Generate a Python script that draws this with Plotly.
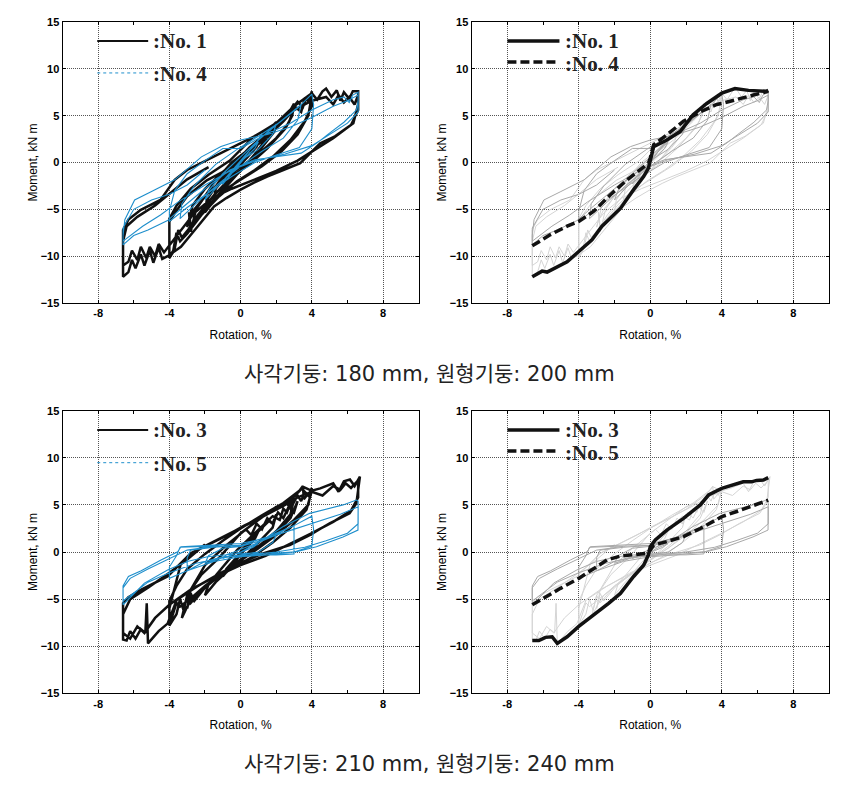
import plotly.graph_objects as go

# ---------------- data ----------------
# No. 1 hysteresis (rotation %, moment kN m), cycle by cycle
NO1_ROT = [
    [0, 0.5, 1.0, 0.9, 0.4, -0.2, -0.6, -1.0, -0.9, -0.4, 0.1],
    [0.3, 1.0, 1.5, 1.4, 0.8, 0.0, -0.8, -1.5, -1.4, -0.7, 0.2],
    [0.8, 1.5, 2.0, 1.9, 1.2, 0.4, -0.4, -1.2, -2.0, -1.9, -1.2, -0.4, 0.3],
    [1.2, 2.2, 2.8, 3.0, 2.9, 2.5, 1.5, 0.5, -0.5, -1.5, -2.4, -2.8, -2.9, -2.8, -2.5, -1.5, -0.5],
    [0.6, 1.6, 2.4, 2.8, 3.0, 2.7, 2.0, 1.0, 0.0, -1.0, -1.9, -2.6, -2.9, -3.0, -2.7, -2.0, -1.0, -0.1],
    [0.5, 1.5, 2.5, 3.2, 3.5, 3.7, 3.8, 4.0, 4.0, 3.6, 2.8, 1.8, 0.8, -0.2, -1.2, -2.2, -3.0, -3.4,
     -3.6, -3.8, -4.0, -4.0, -3.7, -3.0, -1.9, -0.8],
    [0.2, 1.3, 2.4, 3.1, 3.4, 3.6, 3.9, 4.0, 3.8, 3.2, 2.3, 1.2, 0.2, -0.8, -1.8, -2.8, -3.3, -3.5,
     -3.7, -4.0, -4.0, -3.6, -2.8, -1.8, -0.6],
    [0.7, 2.0, 3.0, 4.0, 4.3, 4.6, 4.8, 5.1, 5.4, 5.6, 5.8, 6.1, 6.3, 6.6, 6.6, 6.33, 5.3, 4.47, 4.0,
     3.35, 2.4, 1.49, 0.7, 0.0, -0.8, -1.49, -2.4, -3.35, -4.1, -4.4, -4.6, -4.9, -5.1, -5.4, -5.6,
     -5.9, -6.1, -6.3, -6.6, -6.6, -6.6, -6.3, -5.6, -4.5, -3.7, -3.0, -1.86, -0.37],
    [0.74, 2.05, 3.0, 4.0, 4.8, 5.2, 5.5, 5.8, 6.1, 6.4, 6.6, 6.6, 6.2, 5.2, 4.2, 3.2, 2.0, 0.8,
     -0.5, -1.6, -2.6, -3.5, -4.0, -4.3, -4.6, -4.8, -5.1, -5.3, -5.6, -5.8, -6.1, -6.3, -6.6, -6.6,
     -6.4, -5.8, -4.8, -4.0, -3.0, -1.8],
]
NO1_MOM = [
    [0, 1.3, 2.4, 1.7, 0.6, -0.6, -1.8, -3.0, -2.2, -1.0, 0.2],
    [1.0, 2.4, 3.4, 2.4, 0.9, -0.9, -2.4, -4.0, -2.8, -1.2, 0.6],
    [2.0, 3.3, 4.3, 3.3, 1.6, 0.0, -1.7, -3.4, -5.3, -4.0, -2.0, -0.3, 1.0],
    [2.6, 4.4, 5.6, 6.3, 5.0, 3.6, 1.5, -0.2, -1.5, -3.5, -5.6, -6.8, -5.3, -7.4, -5.0, -2.2, 0.0],
    [1.6, 3.2, 4.6, 5.2, 5.8, 4.2, 2.6, 0.9, -0.5, -1.8, -3.4, -5.0, -6.2, -6.9, -4.6, -2.8, -1.0, 0.4],
    [1.6, 3.2, 4.8, 6.5, 5.9, 7.0, 6.4, 7.6, 6.0, 4.4, 2.4, 0.6, -0.8, -2.0, -3.6, -5.6, -7.6, -8.4,
     -7.5, -9.6, -10.2, -6.3, -5.4, -3.6, -1.9, -0.8],
    [0.8, 2.4, 4.4, 5.9, 5.4, 6.8, 6.6, 7.2, 5.0, 3.0, 1.2, -0.4, -1.6, -2.8, -4.5, -6.8, -8.0, -7.2,
     -9.2, -10.0, -6.0, -4.6, -2.8, -1.3, 0.2],
    [2.7, 4.2, 6.0, 7.4, 6.7, 7.6, 7.9, 7.0, 7.7, 6.6, 7.5, 6.8, 7.6, 7.6, 6.2, 4.2, 2.8, 2.06, 1.17,
     -0.07, -0.8, -1.5, -2.2, -2.9, -3.8, -4.7, -6.8, -9.0, -10.0, -10.3, -9.1, -10.7, -9.4, -11.0,
     -9.8, -11.3, -10.4, -11.7, -12.2, -9.5, -7.2, -6.1, -5.05, -4.0, -1.85, -0.8, 0.28, 1.7],
    [2.77, 4.2, 5.6, 6.6, 7.0, 6.2, 7.2, 6.4, 7.0, 6.2, 7.2, 5.6, 4.0, 2.6, 1.4, 0.2, -0.9, -1.8,
     -2.8, -3.8, -5.4, -7.6, -8.8, -9.6, -8.7, -10.0, -9.0, -10.2, -9.0, -10.4, -9.4, -10.6, -11.0,
     -8.4, -6.8, -5.8, -4.6, -3.4, -1.8, -0.5],
]

# No. 4 hysteresis
NO4_ROT = [
    [0, 0.5, 1.0, 0.8, 0.2, -0.4, -1.0, -0.8, -0.2, 0],
    [1.0, 2.0, 1.8, 1.0, 0, -1.0, -2.0, -1.8, -1.0, 0],
    [1.0, 2.0, 3.0, 3.4, 3.2, 2.4, 1.2, 0, -1.2, -2.4, -3.4, -3.3, -2.6, -1.4, -0.2],
    [1.0, 2.2, 3.2, 4.0, 4.1, 4.0, 3.3, 2.0, 0.8, -0.5, -1.8, -3.0, -4.0, -4.0, -3.7, -3.0, -2.0, -1.0],
    [0, 1.5, 2.8, 4.0, 5.2, 5.8, 6.1, 6.3, 6.6, 6.6, 6.5, 5.8, 4.9, 4.3, 3.4, 2.0, 0.8, -0.6, -2.0,
     -3.2, -4.1, -5.2, -6.0, -6.6, -6.6, -6.5, -5.95, -5.0, -4.47, -3.7, -2.2, -1.1, 0],
    [1.5, 2.8, 4.0, 5.2, 6.0, 6.6, 6.6, 6.0, 5.0, 4.0, 2.5, 1.0, -0.5, -2.0, -3.5, -4.5, -5.5, -6.6,
     -6.6, -6.0, -5.0, -4.0, -3.0, -2.0],
]
NO4_MOM = [
    [0, 1.3, 2.2, 1.5, 0.4, -0.9, -2.3, -1.6, -0.4, 0.2],
    [2.4, 4.1, 3.0, 1.4, 0.2, -2.0, -4.0, -3.0, -1.2, 0.6],
    [2.4, 4.0, 5.6, 6.2, 4.5, 2.6, 1.2, -0.4, -2.2, -4.2, -6.0, -4.4, -2.5, -0.2, 1.4],
    [2.8, 4.3, 5.8, 7.3, 6.2, 3.6, 1.6, 0.8, 0.0, -1.5, -3.2, -4.8, -6.3, -5.2, -3.0, -1.2, 0.2, 1.5],
    [1.5, 3.1, 4.2, 5.6, 6.7, 7.0, 6.4, 7.2, 7.5, 6.6, 5.6, 4.3, 3.0, 2.1, 1.0, 0.6, 0.3, -0.8, -2.8,
     -4.7, -6.2, -7.2, -7.8, -8.8, -7.8, -6.1, -4.0, -3.1, -2.6, -1.85, 0.6, 1.7, 2.4],
    [3.0, 3.8, 4.8, 6.0, 6.6, 7.2, 5.4, 4.2, 3.0, 1.8, 0.9, 0.3, -0.8, -2.4, -4.2, -5.6, -6.8, -8.4,
     -7.0, -5.0, -4.0, -3.4, -2.4, -0.8],
]

# No. 3 hysteresis
NO3_ROT = [
    [0, 0.5, 1.0, 0.8, 0.2, -0.4, -1.0, -0.8, -0.2, 0.1],
    [1.0, 1.6, 1.8, 2.0, 1.8, 1.0, 0.2, -0.6, -1.4, -2.0, -1.8, -1.0, -0.2],
    [0.8, 1.8, 2.2, 2.4, 2.6, 2.8, 3.0, 2.8, 2.0, 1.0, 0, -1.0, -2.0, -2.6, -2.8, -3.0, -2.8, -2.0, -1.0],
    [-0.5, 0.3, 0.6, 0.9, 1.2, 1.5, 1.8, 2.1, 2.4, 2.7, 3.0, 3.2, 2.8, 2.0, 1.0, 0.0, -1.0, -2.0,
     -2.6, -3.0, -3.3, -3.0, -2.2, -1.2],
    [0, 1.0, 2.0, 2.6, 2.8, 3.2, 3.4, 3.6, 3.8, 4.0, 3.8, 3.0, 2.0, 1.0, 0, -1.0, -2.0, -2.8, -3.0,
     -3.2, -3.4, -3.6, -4.0, -4.0, -3.6, -3.0, -2.0, -1.0],
    [0, 1.2, 2.4, 3.3, 3.5, 3.55, 3.8, 4.0, 3.7, 2.8, 1.8, 0.6, -0.6, -1.8, -3.0, -3.4, -3.6, -4.0,
     -4.0, -3.35, -2.8, -1.86, -0.74],
    [0, 1.1, 2.05, 2.98, 3.53, 4.0, 4.47, 4.8, 5.2, 5.5, 5.8, 6.14, 6.4, 6.7, 6.6, 6.5, 6.12, 5.0,
     3.88, 2.76, 1.27, 0.15, -1.16, -2.46, -3.59, -4.1, -4.6, -4.9, -5.2, -5.27, -5.35, -5.6, -5.9,
     -6.2, -6.4, -6.6, -6.6, -6.6, -6.3, -5.58, -4.1, -3.35, -2.8, -1.86, -0.74],
    [0.2, 1.3, 2.4, 3.2, 4.0, 4.6, 5.2, 5.6, 5.9, 6.2, 6.6, 6.6, 6.2, 5.2, 4.0, 2.8, 1.4, 0, -1.4,
     -2.8, -4.0, -4.8, -5.4, -5.8, -6.2, -6.6, -6.6, -6.2, -5.2, -4.0, -3.0, -2.0],
]
NO3_MOM = [
    [0, 1.2, 2.2, 1.4, 0.2, -1.2, -2.6, -1.8, -0.5, 0.3],
    [2.2, 3.3, 3.0, 4.0, 2.6, 1.0, -0.5, -1.8, -3.2, -4.6, -3.4, -1.6, 0.2],
    [2.0, 3.8, 3.4, 4.6, 4.2, 5.2, 5.6, 4.0, 2.2, 0.6, -0.8, -2.2, -3.8, -5.2, -4.4, -6.0, -4.0, -1.4, 0.4],
    [1.2, 2.4, 1.8, 3.0, 2.4, 3.6, 3.0, 4.2, 3.6, 4.8, 4.2, 5.4, 3.6, 2.0, 0.4, -0.9, -2.2, -3.6,
     -4.6, -5.8, -7.0, -4.6, -2.4, -0.6],
    [2.0, 3.4, 4.8, 5.2, 4.6, 6.0, 5.4, 6.4, 6.0, 6.8, 5.0, 3.4, 1.8, 0.4, -0.8, -2.2, -3.6, -5.4,
     -4.6, -6.2, -5.0, -6.6, -7.8, -5.2, -3.6, -1.8, -0.2, 1.2],
    [2.5, 3.9, 5.2, 6.5, 7.0, 5.6, 6.2, 6.5, 4.5, 2.6, 1.0, -0.6, -1.8, -3.4, -5.2, -5.8, -5.4, -7.8,
     -6.0, -1.2, -0.14, 0.74, 1.8],
    [2.5, 3.6, 4.6, 5.87, 6.9, 6.5, 6.75, 7.0, 7.3, 6.4, 7.5, 7.7, 7.0, 8.0, 6.6, 5.17, 4.1, 3.05,
     1.8, 0.74, -0.14, -1.03, -2.26, -3.68, -5.1, -7.6, -8.4, -9.0, -9.7, -5.45, -8.6, -8.2, -9.2,
     -8.4, -9.4, -9.3, -7.0, -5.45, -4.8, -4.0, -2.6, -1.2, -0.14, 0.74, 1.8],
    [2.8, 3.8, 4.9, 5.8, 6.4, 6.0, 7.0, 6.6, 7.3, 6.8, 7.6, 5.8, 4.4, 3.2, 2.0, 0.9, -0.4, -1.4, -2.6,
     -4.0, -5.6, -7.0, -8.6, -7.9, -9.2, -8.6, -6.6, -5.0, -3.8, -2.2, -0.8, 0.8],
]

# No. 5 hysteresis
NO5_ROT = [
    [0, 0.5, 1.0, 0.7, 0.2, -0.5, -1.0, -0.8, -0.2, 0],
    [1.0, 2.0, 1.8, 1.0, 0, -1.0, -2.0, -1.8, -1.0, 0],
    [1.5, 3.0, 3.0, 2.0, 0.5, -1.0, -2.0, -3.0, -3.0, -2.8, -1.5, 0],
    [1.5, 3.0, 4.0, 4.1, 4.0, 3.0, 1.5, 0, -1.5, -3.0, -4.0, -4.0, -3.6, -3.4, -2.0, -0.5],
    [0, 1.5, 2.39, 3.88, 5.0, 5.75, 6.5, 6.6, 6.59, 5.75, 4.26, 3.14, 2.0, 0, -1.86, -3.0, -4.1,
     -5.4, -6.6, -6.6, -6.6, -6.3, -5.58, -4.47, -3.53, -3.35, -1.86, 0],
    [1.5, 3.0, 4.5, 5.6, 6.6, 6.6, 6.0, 4.8, 3.6, 2.0, 0.5, -1.0, -2.5, -4.0, -5.2, -6.6, -6.6,
     -6.2, -5.2, -4.0, -3.0, -1.5],
]
NO5_MOM = [
    [0, 0.5, 0.9, 0.5, 0.1, -0.3, -0.7, -0.3, 0.1, 0.3],
    [1.0, 1.8, 1.0, 0.0, -0.3, -0.6, -1.2, -0.4, 0.4, 0.6],
    [1.4, 2.8, -0.2, -0.3, -0.3, -0.5, -1.0, -2.0, -0.6, 0.2, 0.5, 0.7],
    [1.6, 2.8, 3.8, 2.4, 0.6, 0.0, -0.3, -0.5, -1.0, -2.0, -2.8, -1.6, -0.4, 0.5, 0.6, 0.7],
    [0.7, 1.6, 2.7, 4.1, 4.6, 5.0, 5.52, 5.4, 2.33, 1.6, 0.56, 0.03, -0.1, -0.14, -0.5, -1.0, -1.9,
     -3.3, -5.6, -4.6, -3.6, -2.6, -2.0, -0.85, 0.03, 0.56, 0.74, 0.9],
    [1.5, 2.4, 3.3, 4.0, 4.8, 3.0, 2.0, 1.2, 0.5, 0.0, -0.3, -0.6, -1.2, -2.2, -3.2, -5.2, -3.8,
     -2.8, -1.8, -0.7, 0.2, 0.6],
]

# Skeleton (envelope) curves
ENV1_ROT = [-6.6, -6.05, -5.77, -5.2, -4.65, -4.0, -3.26, -2.7, -1.67, -0.93, -0.37, -0.1, 0.0, 0.1,
            0.19, 0.93, 1.67, 2.4, 3.16, 4.0, 4.74, 5.5, 6.5, 6.6]
ENV1_MOM = [-12.2, -11.6, -11.7, -11.1, -10.6, -9.5, -8.25, -6.8, -4.9, -2.9, -1.5, -0.6, 0.3, 1.2,
            1.7, 2.4, 3.3, 5.1, 6.3, 7.4, 7.9, 7.7, 7.6, 7.7]
ENV4_ROT = [-6.6, -5.58, -4.65, -4.0, -3.16, -2.23, -1.3, -0.56, -0.1, 0.0, 0.19, 0.93, 1.86, 2.8,
            3.72, 4.0, 5.0, 5.77, 6.6]
ENV4_MOM = [-8.9, -7.7, -6.8, -6.3, -5.2, -3.45, -1.85, -0.8, -0.07, 0.45, 1.9, 2.95, 4.4, 5.4,
            6.2, 6.3, 6.85, 7.2, 7.6]
ENV3_ROT = [-6.6, -6.23, -5.86, -5.49, -5.2, -4.65, -4.0, -3.16, -2.33, -1.67, -0.93, -0.37, -0.1,
            0.0, 0.28, 0.93, 1.86, 2.8, 3.26, 4.0, 4.74, 5.2, 5.67, 5.95, 6.33, 6.6]
ENV3_MOM = [-9.4, -9.4, -9.06, -9.0, -9.7, -9.0, -7.9, -6.7, -5.45, -4.4, -2.6, -1.4, -0.3, 0.56,
            1.27, 2.33, 3.57, 5.0, 6.05, 6.75, 7.2, 7.45, 7.45, 7.6, 7.64, 7.9]
ENV5_ROT = [-6.6, -5.86, -5.02, -4.0, -3.16, -2.42, -1.67, -0.93, -0.19, 0.0, 0.19, 0.93, 1.86,
            2.8, 3.72, 4.0, 4.84, 5.77, 6.6]
ENV5_MOM = [-5.6, -4.74, -3.86, -2.8, -1.73, -0.85, -0.43, -0.32, -0.14, 0.2, 0.74, 1.1, 1.63,
            2.5, 3.4, 3.75, 4.3, 4.9, 5.5]

X_TICKS = [-8, -4, 0, 4, 8]
X_MINOR = [-6, -2, 2, 6]
Y_TICKS = [-15, -10, -5, 0, 5, 10, 15]
CAPTIONS = ["사각기둥: 180 mm, 원형기둥: 200 mm", "사각기둥: 210 mm, 원형기둥: 240 mm"]
LEGEND_TOP = [":No. 1", ":No. 4"]
LEGEND_BOTTOM = [":No. 3", ":No. 5"]

BLUE = "#1f8fcc"
# the page puts the plot 8px in from the window's top-left corner
OFF = 8
W, H = 842 - OFF, 786 - OFF


def flat(cycles):
    out = []
    for c in cycles:
        out.extend(c)
    return out


def px_x(p):
    return (p - OFF) / W


def px_y(p):
    return 1 - (p - OFF) / H


fig = go.Figure()

# left panels: hysteresis loops
fig.add_trace(go.Scatter(x=flat(NO1_ROT), y=flat(NO1_MOM), mode="lines", name="No. 1",
                         line=dict(color="#111111", width=2.5), xaxis="x", yaxis="y"))
fig.add_trace(go.Scatter(x=flat(NO4_ROT), y=flat(NO4_MOM), mode="lines", name="No. 4",
                         line=dict(color=BLUE, width=1.1), xaxis="x", yaxis="y"))
fig.add_trace(go.Scatter(x=flat(NO3_ROT), y=flat(NO3_MOM), mode="lines", name="No. 3",
                         line=dict(color="#111111", width=2.5), xaxis="x3", yaxis="y3"))
fig.add_trace(go.Scatter(x=flat(NO5_ROT), y=flat(NO5_MOM), mode="lines", name="No. 5",
                         line=dict(color=BLUE, width=1.1), xaxis="x3", yaxis="y3"))

# right panels: grey loops + envelopes
fig.add_trace(go.Scatter(x=flat(NO1_ROT), y=flat(NO1_MOM), mode="lines", showlegend=False,
                         line=dict(color="#d4d4d4", width=1), xaxis="x2", yaxis="y2"))
fig.add_trace(go.Scatter(x=flat(NO4_ROT), y=flat(NO4_MOM), mode="lines", showlegend=False,
                         line=dict(color="#a8a8a8", width=1), xaxis="x2", yaxis="y2"))
fig.add_trace(go.Scatter(x=ENV1_ROT, y=ENV1_MOM, mode="lines", name="No. 1 envelope",
                         line=dict(color="#111111", width=3.5), xaxis="x2", yaxis="y2"))
fig.add_trace(go.Scatter(x=ENV4_ROT, y=ENV4_MOM, mode="lines", name="No. 4 envelope",
                         line=dict(color="#111111", width=3.5, dash="9px,4px"), xaxis="x2", yaxis="y2"))

fig.add_trace(go.Scatter(x=flat(NO3_ROT), y=flat(NO3_MOM), mode="lines", showlegend=False,
                         line=dict(color="#d4d4d4", width=1), xaxis="x4", yaxis="y4"))
fig.add_trace(go.Scatter(x=flat(NO5_ROT), y=flat(NO5_MOM), mode="lines", showlegend=False,
                         line=dict(color="#a8a8a8", width=1), xaxis="x4", yaxis="y4"))
fig.add_trace(go.Scatter(x=ENV3_ROT, y=ENV3_MOM, mode="lines", name="No. 3 envelope",
                         line=dict(color="#111111", width=3.5), xaxis="x4", yaxis="y4"))
fig.add_trace(go.Scatter(x=ENV5_ROT, y=ENV5_MOM, mode="lines", name="No. 5 envelope",
                         line=dict(color="#111111", width=3.5, dash="9px,4px"), xaxis="x4", yaxis="y4"))

XD_L = [px_x(62.5), px_x(418.7)]
XD_R = [px_x(471.5), px_x(829.0)]
YD_T = [px_y(303.0), px_y(22.0)]
YD_B = [px_y(693.3), px_y(410.7)]

tickfont = dict(family="Liberation Sans", size=11, color="black", weight="bold")
titlefont = dict(family="Liberation Sans", size=12, color="black")


def xax(domain, anchor):
    return dict(domain=domain, anchor=anchor, range=[-10, 10], tickvals=X_TICKS,
                ticktext=[str(v) for v in X_TICKS], showgrid=True, gridcolor="#555555",
                griddash="1px,1px", gridwidth=1, zeroline=False, showline=True, linecolor="black",
                linewidth=1, mirror="allticks", ticks="inside", ticklen=3, tickcolor="black",
                minor=dict(tickvals=X_MINOR, ticks="inside", ticklen=3, tickcolor="black", showgrid=False),
                tickfont=tickfont, title=dict(text="Rotation, %", font=titlefont, standoff=12),
                automargin=False, fixedrange=True)


def yax(domain, anchor):
    return dict(domain=domain, anchor=anchor, range=[-15, 15], tickvals=Y_TICKS,
                showgrid=True, gridcolor="#555555", griddash="1px,1px", gridwidth=1, zeroline=False,
                showline=True, linecolor="black", linewidth=1, mirror="allticks", ticks="inside",
                ticklen=3, tickcolor="black", tickfont=tickfont,
                title=dict(text="Moment, kN m", font=titlefont, standoff=0),
                automargin=False, fixedrange=True)


fig.update_layout(
    width=W, height=H, autosize=False, showlegend=False,
    margin=dict(l=0, r=0, t=0, b=0, pad=0), paper_bgcolor="white", plot_bgcolor="white",
    xaxis=xax(XD_L, "y"), yaxis=yax(YD_T, "x"),
    xaxis2=xax(XD_R, "y2"), yaxis2=yax(YD_T, "x2"),
    xaxis3=xax(XD_L, "y3"), yaxis3=yax(YD_B, "x3"),
    xaxis4=xax(XD_R, "y4"), yaxis4=yax(YD_B, "x4"),
)

# legend keys (drawn in each panel)
legfont = dict(family="Liberation Serif", size=21, color="#222222", weight="bold")


def legend(xr, yr, labels, styles, key_x, text_x, key_y, text_y):
    for lab, st, ky, ty in zip(labels, styles, key_y, text_y):
        fig.add_shape(type="line", xref=xr, yref=yr, x0=key_x[0], x1=key_x[1], y0=ky, y1=ky,
                      line=st)
        fig.add_annotation(xref=xr, yref=yr, x=text_x, y=ty, text=lab, showarrow=False,
                           xanchor="left", yanchor="middle", font=legfont, borderpad=0)


thin_styles = [dict(color="#111111", width=2), dict(color=BLUE, width=1, dash="dot")]
thick_styles = [dict(color="#111111", width=3.5), dict(color="#111111", width=3.5, dash="9px,4px")]

legend("x", "y", LEGEND_TOP, thin_styles, (-8.05, -5.19), -5.0, (12.97, 9.56), (13.0, 9.4))
legend("x2", "y2", LEGEND_TOP, thick_styles, (-7.99, -5.08), -4.8, (12.97, 10.73), (13.0, 10.5))
legend("x3", "y3", LEGEND_BOTTOM, thin_styles, (-8.05, -5.19), -5.0, (12.95, 9.48), (13.0, 9.35))
legend("x4", "y4", LEGEND_BOTTOM, thick_styles, (-7.99, -5.08), -4.8, (12.95, 10.72), (13.0, 10.5))

# captions
capfont = dict(family="DejaVu Sans, Noto Sans CJK KR", size=21, color="#222222")
for cap, ypx in zip(CAPTIONS, (374, 764)):
    fig.add_annotation(xref="paper", yref="paper", x=px_x(430), y=px_y(ypx), text=cap,
                       showarrow=False, xanchor="center", yanchor="middle", font=capfont)

fig.write_html("out.html")
